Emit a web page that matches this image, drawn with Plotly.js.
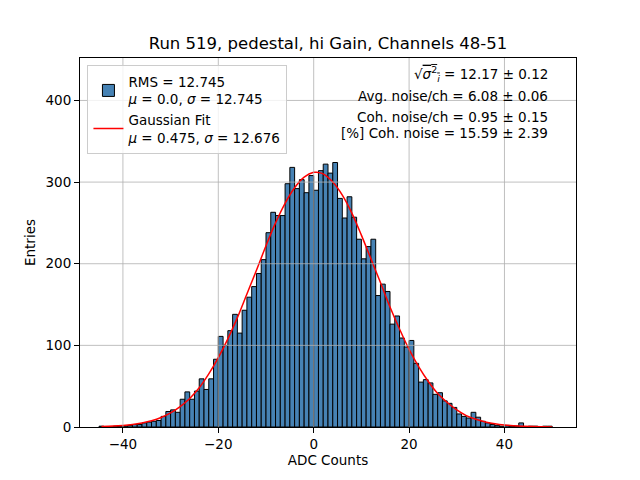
<!DOCTYPE html>
<html>
<head>
<meta charset="utf-8">
<script src="https://cdn.plot.ly/plotly-3.0.1.min.js"></script>
<style>html,body{margin:0;padding:0;background:#fff;}#chart{width:640px;height:480px;}</style>
</head>
<body>
<div id="chart"></div>
<script>
// Histogram bins (lower edges, width 1 ADC count)
const binLow = [-45,-44,-43,-42,-41,-40,-39,-38,-37,-36,-35,-34,-33,-32,-31,-30,-29,-28,-27,-26,
  -25,-24,-23,-22,-21,-20,-19,-18,-17,-16,-15,-14,-13,-12,-11,-10,-9,-8,-7,-6,-5,-4,-3,-2,-1,
  0,1,2,3,4,5,6,7,8,9,10,11,12,13,14,15,16,17,18,19,20,21,22,23,24,25,26,27,28,29,30,31,32,33,34,
  35,36,37,38,39,40,41,42,43,44,45,46,47,48,49];
const counts = [1,0,0,1,1,1,2,3,3,5,6,7,8,13,19,21,18,34,43,34,
  44,59,46,59,83,111,100,118,138,115,143,159,172,188,205,238,263,259,259,298,318,292,303,287,308,
  290,314,322,311,324,280,256,282,257,230,206,221,230,161,175,166,126,136,109,98,106,78,55,58,54,40,42,32,29,24,16,13,11,18,12,
  7,5,3,2,1,2,1,1,5,0,1,1,0,1,1];

// Gaussian fit curve
const fitX = [-44.5,-42,-40,-38,-36,-34,-32,-30,-28,-26,-24,-22,-20,-18,-16,-14,-12,-10,-8,-6,-4,-2,0,0.5,2,4,6,8,10,12,14,16,18,20,22,24,26,28,30,32,34,36,38,40,42,44,46,48,50];
const fitY = [0.6,1.1,1.9,3.1,5.0,7.7,11.7,17.3,25,35,48,65,85,108,134,163,192,222,250,274,293,306,312,312,310,300,284,262,235,206,177,147,120,95,74,56,41,30,21,14,9.4,6.2,3.9,2.4,1.5,0.9,0.5,0.3,0.15];

const xTicks = [-40,-20,0,20,40];
const yTicks = [0,100,200,300,400];

const titleText = "Run 519, pedestal, hi Gain, Channels 48-51";
const histName = "RMS = 12.745<br><i>μ</i> = 0.0, <i>σ</i> = 12.745";
const fitName = "Gaussian Fit<br><i>μ</i> = 0.475, <i>σ</i> = 12.676";
const infoLines = [
  "√<span style='text-decoration:overline'><i>σ</i><sup>2</sup><sub><i>i</i></sub></span> = 12.17 ± 0.12",
  "Avg. noise/ch = 6.08 ± 0.06",
  "Coh. noise/ch = 0.95 ± 0.15",
  "[%] Coh. noise = 15.59 ± 2.39"
];
const infoY = [0.957, 0.897, 0.840, 0.797];

const FONT = "DejaVu Sans, Liberation Sans, sans-serif";

const traces = [
  {
    type: 'bar', x: binLow, y: counts, offset: 0, width: 1,
    name: histName,
    marker: {color: '#4682b4', line: {color: '#000000', width: 1}},
    hoverinfo: 'skip'
  },
  {
    type: 'scatter', mode: 'lines', x: fitX, y: fitY,
    name: fitName,
    line: {color: '#ff0000', width: 1.5, shape: 'spline'},
    hoverinfo: 'skip'
  }
];

const shapes = [];
xTicks.forEach(v => shapes.push({type:'line', xref:'x', yref:'paper', x0:v, x1:v, y0:0, y1:1,
  line:{color:'#b0b0b0', width:0.8}, layer:'above'}));
yTicks.slice(1).forEach(v => shapes.push({type:'line', xref:'paper', yref:'y', x0:0, x1:1, y0:v, y1:v,
  line:{color:'#b0b0b0', width:0.8}, layer:'above'}));

const annotations = infoLines.map((t, i) => ({
  xref:'paper', yref:'paper', x: 0.948, y: infoY[i], xanchor:'right', yanchor:'middle',
  text: t, showarrow:false, font:{family:FONT, size:13.5, color:'#000'}
}));

const layout = {
  width: 640, height: 480,
  margin: {l: 80, r: 64, t: 58, b: 53, pad: 0},
  paper_bgcolor: '#fff', plot_bgcolor: '#fff',
  font: {family: FONT, size: 13.5, color: '#000'},
  title: {text: titleText, font: {family: FONT, size: 16.5, color: '#000'}, x: 0.5, xanchor: 'center', y: 0.897, yanchor: 'bottom', xref: 'paper'},
  bargap: 0,
  showlegend: true,
  legend: {x: 0.015, y: 0.98, xanchor: 'left', yanchor: 'top', bgcolor: 'rgba(255,255,255,0.8)',
    bordercolor: '#cccccc', borderwidth: 1, font: {family: FONT, size: 13.5, color: '#000'},
    valign: 'middle', tracegroupgap: 4, itemwidth: 30},
  xaxis: {range: [-49, 55], tickvals: xTicks, ticktext: xTicks.map(v => v < 0 ? '−' + Math.abs(v) : String(v)),
    ticks: 'outside', ticklen: 5, tickwidth: 1, tickcolor: '#000', showgrid: false, zeroline: false,
    showline: true, linecolor: '#000', linewidth: 1, mirror: true,
    title: {text: 'ADC Counts', font: {family: FONT, size: 13.5}, standoff: 4}},
  yaxis: {range: [0, 452], tickvals: yTicks, ticks: 'outside', ticklen: 5, tickwidth: 1, tickcolor: '#000',
    showgrid: false, zeroline: false, showline: true, linecolor: '#000', linewidth: 1, mirror: true,
    title: {text: 'Entries', font: {family: FONT, size: 13.5}, standoff: 6}},
  shapes: shapes,
  annotations: annotations,
  hovermode: false
};

Plotly.newPlot('chart', traces, layout, {staticPlot: true, displayModeBar: false});
</script>
</body>
</html>
